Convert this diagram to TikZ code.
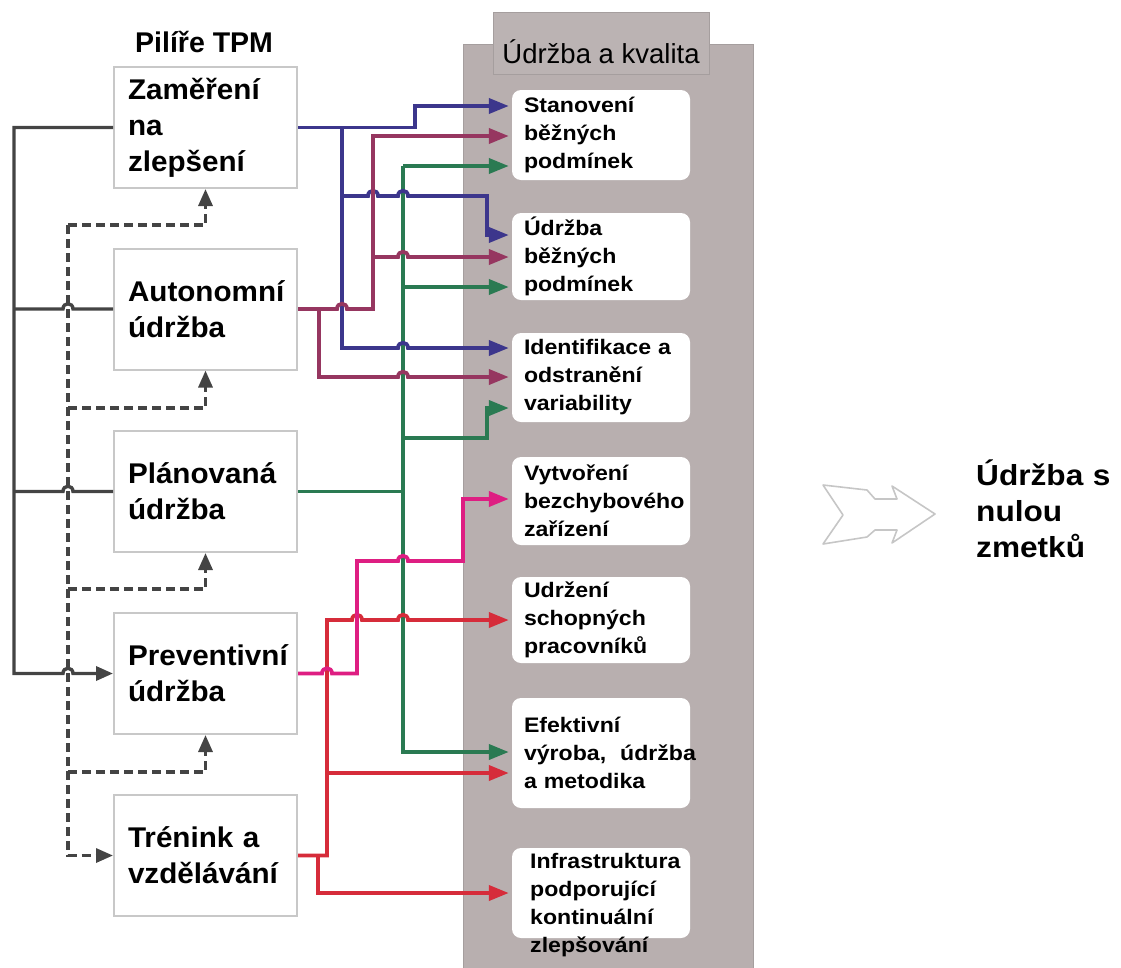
\documentclass[tikz,border=0pt]{standalone}
\usepackage{fontspec}
\setmainfont{Liberation Sans}
\newfontfamily\pillarfont[FakeStretch=1.04]{Liberation Sans}
\newfontfamily\goalfont[FakeStretch=1.1]{Liberation Sans}
\newfontfamily\resultfont[FakeStretch=1.09]{Liberation Sans}
\usetikzlibrary{arrows.meta}
\hyphenpenalty=10000
\exhyphenpenalty=10000

\definecolor{panelgray}{RGB}{184,175,175}
\definecolor{paneledge}{RGB}{165,158,158}
\definecolor{hdrgray}{RGB}{187,179,179}
\definecolor{boxedge}{RGB}{200,200,200}
\definecolor{lnblue}{RGB}{60,54,140}
\definecolor{lnmaroon}{RGB}{150,54,96}
\definecolor{lngreen}{RGB}{42,122,82}
\definecolor{lnmagenta}{RGB}{222,30,130}
\definecolor{lnred}{RGB}{214,44,58}
\definecolor{lngray}{RGB}{68,68,68}
\definecolor{shapegray}{RGB}{198,198,198}

% small bump where a horizontal line jumps over a vertical one
\newcommand\hopR[2]{-- ({#1-5},#2) .. controls ({#1-5},{#2-7}) and ({#1+5},{#2-7}) .. ({#1+5},#2)}
\newcommand\hopL[2]{-- ({#1+5},#2) .. controls ({#1+5},{#2-7}) and ({#1-5},{#2-7}) .. ({#1-5},#2)}

\tikzset{
  pillar/.style={draw=boxedge, line width=2pt, fill=white,
    minimum width=183pt, minimum height=121pt, inner xsep=0pt,
    text width=155pt, align=left,
    font=\pillarfont\bfseries\fontsize{28.5}{36}\selectfont},
  goal/.style={fill=white, rounded corners=9pt, minimum width=178pt,
    inner xsep=0pt, inner ysep=0pt, text width=154pt, align=left,
    font=\goalfont\bfseries\fontsize{21}{28}\selectfont},
  goaltext/.style={inner sep=0pt, text width=160pt, align=left,
    font=\goalfont\bfseries\fontsize{21}{28}\selectfont},
  link/.style={line width=3.8pt, line join=miter, -{Triangle[length=20pt,width=15pt]}, shorten >=3pt},
  tie/.style={line width=3.8pt, line join=miter},
  gline/.style={draw=lngray, line width=3.4pt},
  garrow/.style={-{Triangle[length=17pt,width=14pt]}},
  dline/.style={draw=lngray, line width=3.2pt, dash pattern=on 9pt off 5pt}
}

\begin{document}
\begin{tikzpicture}[x=1pt,y=-1pt]
\useasboundingbox (0,0) rectangle (1121,967);

% quality column
\draw[fill=panelgray, draw=paneledge, line width=1pt] (463,44) rectangle (753,968);
\node[draw=paneledge, fill=hdrgray, line width=1pt, minimum width=216pt,
      inner xsep=0pt, inner ysep=0pt, text height=51pt, text depth=11pt,
      font=\fontsize{27.5}{30}\selectfont] (hdr) at (601,43) {Údržba a kvalita};

% title
\node[anchor=base west, inner sep=0pt, font=\bfseries\fontsize{28.5}{34}\selectfont]
  (title) at (135,52) {Pilíře TPM};

% pillars
\node[pillar] (p1) at (205.5,127.5) {Zaměření\\na\\zlepšení};
\node[pillar] (p2) at (205.5,309)   {Autonomní\\údržba};
\node[pillar] (p3) at (205.5,491.5) {Plánovaná\\údržba};
\node[pillar] (p4) at (205.5,673.5) {Preventivní\\údržba};
\node[pillar] (p5) at (205.5,855.5) {Trénink a\\vzdělávání};

% goals
\node[goal, minimum height=90pt]  (r1) at (601,135)   {Stanovení\\běžných\\podmínek};
\node[goal, minimum height=87pt]  (r2) at (601,256.5) {Údržba\\běžných\\podmínek};
\node[goal, minimum height=89pt]  (r3) at (601,377.5) {Identifikace a\\odstranění\\variability};
\node[goal, minimum height=88pt]  (r4) at (601,501)   {Vytvoření\\bezchybového\\zařízení};
\node[goal, minimum height=86pt]  (r5) at (601,620)   {Udržení\\schopných\\pracovníků};
\node[goal, minimum height=110pt] (r6) at (601,753)   {Efektivní\\výroba,~ údržba\\a metodika};
\node[goal, minimum height=90pt]  (r7) at (601,893)   {};
\node[goaltext, anchor=base west] (r7t) at (530,868)
  {Infrastruktura\\podporující\\kontinuální\\zlepšování};

% result
\draw[draw=shapegray, line width=1.6pt, line join=round]
  (823,485) -- (867,490) -- (875,499) -- (897,499) -- (892,486) -- (935,514)
  -- (892,543) -- (897,530) -- (875,530) -- (867,537) -- (823,544) -- (843,515) -- cycle;
\node[anchor=base west, inner sep=0pt, text width=150pt, align=left,
      font=\resultfont\bfseries\fontsize{29}{36}\selectfont]
  (result) at (976,485) {Údržba s\\nulou\\zmetků};

% support links between pillars (dashed)
\coordinate (dtop) at (68,225);
\coordinate (d2) at (68,408);
\coordinate (d3) at (68,589);
\coordinate (d4) at (68,772);
\draw[dline, garrow] (dtop) -- (dtop |- p5.west) -- (p5.west);
\draw[dline, garrow] (dtop) -| (p1.south);
\draw[dline, garrow] (d2) -| (p2.south);
\draw[dline, garrow] (d3) -| (p3.south);
\draw[dline, garrow] (d4) -| (p4.south);

% solid links between pillars
\draw[gline, garrow] (p1.west) -- (14,127.5) -- (14,673.5) \hopR{68}{673.5} -- (p4.west);
\draw[gline] (p2.west) \hopL{68}{309} -- (14,309);
\draw[gline] (p3.west) \hopL{68}{491.5} -- (14,491.5);

% green: planned maintenance
\coordinate (gtop) at (403,166);
\draw[tie, lngreen] (p3.east) -- (403,491.5);
\draw[link, lngreen] (gtop) -- (403,752) -- (r6.west |- 0,752);
\draw[link, lngreen] (gtop) -- (r1.west |- gtop);
\draw[link, lngreen] (403,287) -- (r2.west |- 0,287);
\draw[link, lngreen] (403,438) -- (487,438) -- (487,408) -- (r3.west |- 0,408);

% blue: focused improvement
\coordinate (bj) at (342,127.5);
\draw[link, lnblue] (p1.east) -- (415,127.5) -- (415,106) -- (r1.west |- 0,106);
\draw[link, lnblue] (bj) -- (342,196) \hopR{373}{196} \hopR{403}{196} -- (487,196) -- (487,235) -- (r2.west |- 0,235);
\draw[link, lnblue] (bj) -- (342,348) \hopR{403}{348} -- (r3.west |- 0,348);

% maroon: autonomous maintenance
\draw[link, lnmaroon] (p2.east) \hopR{342}{309} -- (373,309) -- (373,136) -- (r1.west |- 0,136);
\draw[link, lnmaroon] (373,257) \hopR{403}{257} -- (r2.west |- 0,257);
\draw[link, lnmaroon] (319,309) -- (319,377) \hopR{403}{377} -- (r3.west |- 0,377);

% red: training
\draw[link, lnred] (p5.east) -- (327,855.5) -- (327,620) \hopR{357}{620} \hopR{403}{620} -- (r5.west |- 0,620);
\draw[link, lnred] (327,773) -- (r6.west |- 0,773);
\draw[link, lnred] (318,855.5) -- (318,893) -- (r7.west |- 0,893);

% magenta: preventive maintenance
\draw[link, lnmagenta] (p4.east) \hopR{327}{673.5} -- (357,673.5) -- (357,561) \hopR{403}{561} -- (463,561) -- (463,499) -- (r4.west |- 0,499);
\end{tikzpicture}
\end{document}
